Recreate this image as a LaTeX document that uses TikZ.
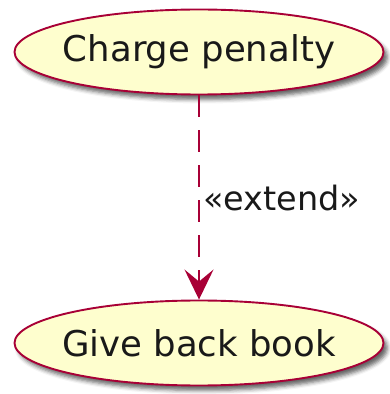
\documentclass[tikz,border=0pt]{standalone}
\usepackage{fontspec}
\setmainfont{DejaVu Sans}
\usetikzlibrary{shapes.geometric,arrows.meta,shadows.blur}
\definecolor{ucfill}{HTML}{FEFECE}
\definecolor{ucline}{HTML}{A80036}
\tikzset{
  usecase/.style={ellipse, draw=ucline, fill=ucfill, line width=1.9pt,
    minimum width=369pt, minimum height=85pt, inner sep=0pt,
    label={[font=\fontsize{35.5}{40}\selectfont, text=black!90, inner sep=0pt]center:#1},
    blur shadow={shadow xshift=4pt, shadow yshift=-5pt, shadow blur radius=4pt, shadow opacity=60}},
  extendarrow/.style={draw=ucline, line width=1.8pt, dash pattern=on 22pt off 13pt,
    -{Stealth[length=30pt, width=29pt, inset=12pt]}},
  lbl/.style={font=\fontsize{33.5}{40}\selectfont, text=black!90, inner sep=0pt, anchor=west}
}
\begin{document}
\begin{tikzpicture}[x=1pt,y=1pt]
\useasboundingbox (0,0) rectangle (390,394);
\node[usecase={Charge penalty}] (cp) at (199,342) {};
\node[usecase={Give back book}] (gb) at (199,51) {};
\draw[extendarrow] (cp.south) -- (gb.north);
\node[lbl] (ext) at (203,196) {«extend»};
\end{tikzpicture}
\end{document}
